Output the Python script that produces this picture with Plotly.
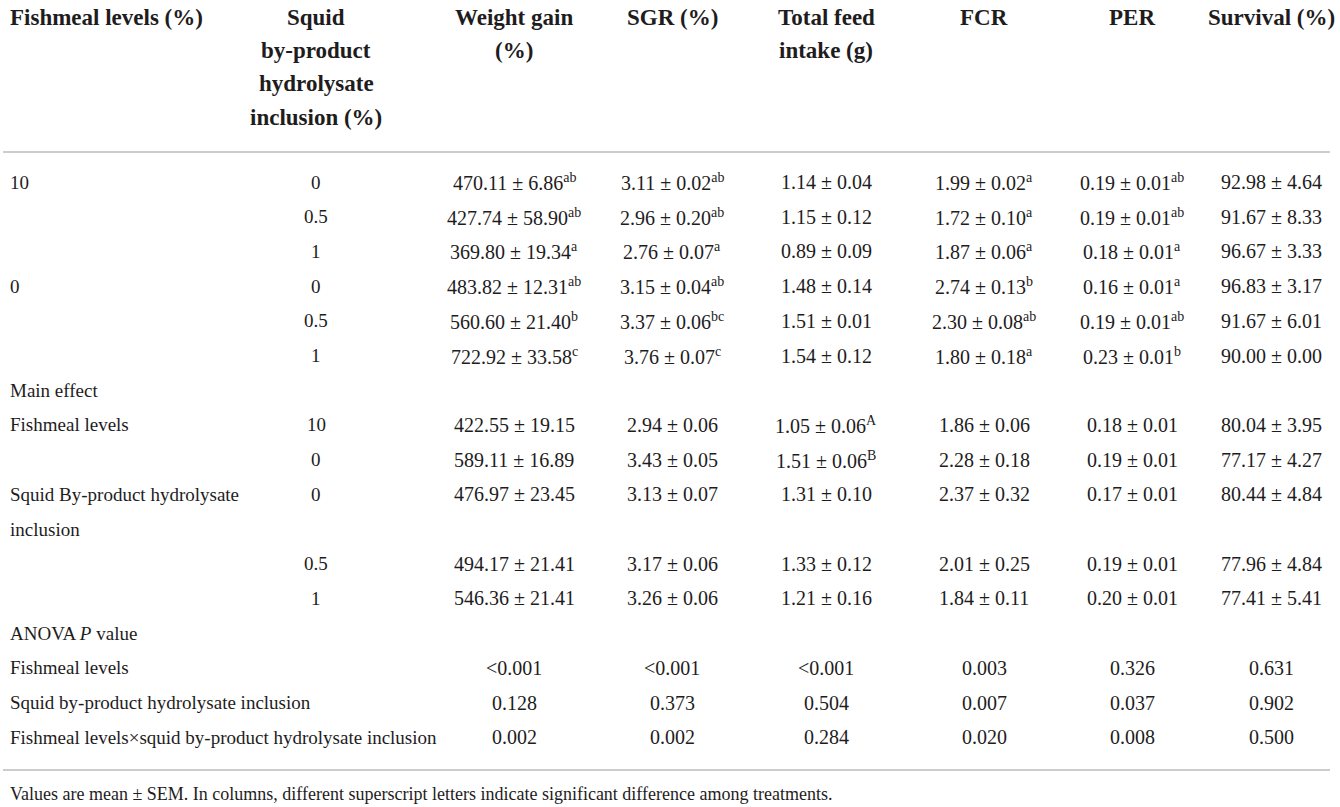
import plotly.graph_objects as go

# ---------------- data ----------------
header_cols = ["Weight gain", "SGR (%)", "Total feed", "FCR", "PER", "Survival (%)"]
header_cols_2 = ["(%)", "", "intake (g)", "", "", ""]

row_fishmeal = ["10", "", "", "0", "", "", "10", "0", "0", "0.5", "1"]
row_squid = ["0", "0.5", "1", "0", "0.5", "1"]

wg_mean = [470.11, 427.74, 369.80, 483.82, 560.60, 722.92, 422.55, 589.11, 476.97, 494.17, 546.36]
wg_sem = [6.86, 58.90, 19.34, 12.31, 21.40, 33.58, 19.15, 16.89, 23.45, 21.41, 21.41]
wg_sig = ["ab", "ab", "a", "ab", "b", "c", "", "", "", "", ""]

sgr_mean = [3.11, 2.96, 2.76, 3.15, 3.37, 3.76, 2.94, 3.43, 3.13, 3.17, 3.26]
sgr_sem = [0.02, 0.20, 0.07, 0.04, 0.06, 0.07, 0.06, 0.05, 0.07, 0.06, 0.06]
sgr_sig = ["ab", "ab", "a", "ab", "bc", "c", "", "", "", "", ""]

tfi_mean = [1.14, 1.15, 0.89, 1.48, 1.51, 1.54, 1.05, 1.51, 1.31, 1.33, 1.21]
tfi_sem = [0.04, 0.12, 0.09, 0.14, 0.01, 0.12, 0.06, 0.06, 0.10, 0.12, 0.16]
tfi_sig = ["", "", "", "", "", "", "A", "B", "", "", ""]

fcr_mean = [1.99, 1.72, 1.87, 2.74, 2.30, 1.80, 1.86, 2.28, 2.37, 2.01, 1.84]
fcr_sem = [0.02, 0.10, 0.06, 0.13, 0.08, 0.18, 0.06, 0.18, 0.32, 0.25, 0.11]
fcr_sig = ["a", "a", "a", "b", "ab", "a", "", "", "", "", ""]

per_mean = [0.19, 0.19, 0.18, 0.16, 0.19, 0.23, 0.18, 0.19, 0.17, 0.19, 0.20]
per_sem = [0.01, 0.01, 0.01, 0.01, 0.01, 0.01, 0.01, 0.01, 0.01, 0.01, 0.01]
per_sig = ["ab", "ab", "a", "a", "ab", "b", "", "", "", "", ""]

surv_mean = [92.98, 91.67, 96.67, 96.83, 91.67, 90.00, 80.04, 77.17, 80.44, 77.96, 77.41]
surv_sem = [4.64, 8.33, 3.33, 3.17, 6.01, 0.00, 3.95, 4.27, 4.84, 4.84, 5.41]
surv_sig = ["", "", "", "", "", "", "", "", "", "", ""]

anova_labels = ["Fishmeal levels", "Squid by-product hydrolysate inclusion",
                "Fishmeal levels×squid by-product hydrolysate inclusion"]
p_fishmeal = ["<0.001", "<0.001", "<0.001", "0.003", "0.326", "0.631"]
p_squid = ["0.128", "0.373", "0.504", "0.007", "0.037", "0.902"]
p_interaction = ["0.002", "0.002", "0.284", "0.020", "0.008", "0.500"]

footnote = ("Values are mean ± SEM. In columns, different superscript letters "
            "indicate significant difference among treatments.")

# ---------------- layout ----------------
W, H = 1340, 807
FONT = "Liberation Serif"
TXT = "#1e1c1d"
VAL = 20      # numeric cells
LAB = 19      # row labels
HEAD = 23     # bold header
NOTE = 18     # footnote
col2_x = 316
val_x = [514, 672, 826, 984, 1132, 1271]
left_x = 8
y0, pitch = 182, 34.7


def ry(i):
    return y0 + pitch * i


fig = go.Figure()
fig.add_trace(go.Scatter(x=[0, W], y=[0, H], mode="markers",
                         marker=dict(opacity=0), hoverinfo="skip", showlegend=False))

ann = []


def add(text, x, y, anchor="center", size=VAL, bold=False):
    if bold:
        text = "<b>" + text + "</b>"
    ann.append(dict(x=x, y=y, xref="x", yref="y", text=text, showarrow=False,
                    xanchor=anchor, yanchor="middle",
                    font=dict(family=FONT, size=size, color=TXT)))


# header
hy = [17, 50, 83, 117]
add("Fishmeal levels (%)", left_x, hy[0], "left", HEAD, True)
for k, t in enumerate(["Squid", "by-product", "hydrolysate", "inclusion (%)"]):
    add(t, col2_x, hy[k], "center", HEAD, True)
for j in range(6):
    add(header_cols[j], val_x[j], hy[0], "center", HEAD, True)
    if header_cols_2[j]:
        add(header_cols_2[j], val_x[j], hy[1], "center", HEAD, True)


def cell(m, s, sig):
    t = f"{m:.2f} ± {s:.2f}"
    if sig:
        t += f"<sup>{sig}</sup>"
    return t


metrics = [(wg_mean, wg_sem, wg_sig), (sgr_mean, sgr_sem, sgr_sig),
           (tfi_mean, tfi_sem, tfi_sig), (fcr_mean, fcr_sem, fcr_sig),
           (per_mean, per_sem, per_sig), (surv_mean, surv_sem, surv_sig)]

# table row index of each of the 11 value rows
value_rows = [0, 1, 2, 3, 4, 5, 7, 8, 9, 11, 12]

for i in range(6):
    if row_fishmeal[i]:
        add(row_fishmeal[i], left_x, ry(i), "left", LAB)
    add(row_squid[i], col2_x, ry(i), "center", LAB)

add("Main effect", left_x, ry(6), "left", LAB)
add("Fishmeal levels", left_x, ry(7), "left", LAB)
add("Squid By-product hydrolysate", left_x, ry(9), "left", LAB)
add("inclusion", left_x, ry(10), "left", LAB)
for i in range(6, 11):
    add(row_fishmeal[i], col2_x, ry(value_rows[i]), "center", LAB)

for k, r in enumerate(value_rows):
    for j, (mm, ss, sg) in enumerate(metrics):
        add(cell(mm[k], ss[k], sg[k]), val_x[j], ry(r))

add("ANOVA <i>P</i> value", left_x, ry(13), "left", LAB)
for k, (lab, pv) in enumerate(zip(anova_labels, [p_fishmeal, p_squid, p_interaction])):
    add(lab, left_x, ry(14 + k), "left", LAB)
    for j in range(6):
        add(pv[j], val_x[j], ry(14 + k))

add(footnote, left_x, 794, "left", NOTE)

shapes = [
    dict(type="line", xref="x", yref="y", x0=3, x1=1330, y0=152, y1=152,
         line=dict(color="#cccccc", width=2)),
    dict(type="line", xref="x", yref="y", x0=3, x1=1330, y0=770, y1=770,
         line=dict(color="#cccccc", width=2)),
]

fig.update_layout(
    width=W, height=H, margin=dict(l=0, r=0, t=0, b=0),
    paper_bgcolor="white", plot_bgcolor="white",
    xaxis=dict(range=[0, W], visible=False, fixedrange=True),
    yaxis=dict(range=[H, 0], visible=False, fixedrange=True),
    annotations=ann, shapes=shapes, showlegend=False,
)

fig.write_html("out.html",
               config={"displayModeBar": False, "staticPlot": True},
               post_script="document.body.style.margin='0';document.body.style.overflow='hidden';")
